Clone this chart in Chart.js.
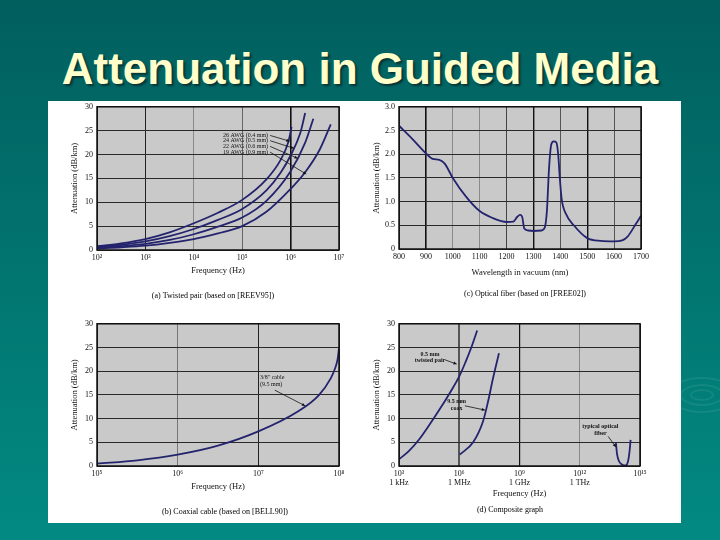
<!DOCTYPE html>
<html lang="en">
<head>
<meta charset="UTF-8">
<title>Attenuation in Guided Media</title>
<style>
  html, body { margin: 0; padding: 0; }
  body {
    width: 720px; height: 540px; position: relative; overflow: hidden;
    background: linear-gradient(#015f5e, #028a82);
    font-family: "Liberation Serif", "Times New Roman", serif;
  }
  h1 {
    position: absolute; left: 0; top: 47px; width: 720px; margin: 0;
    text-align: center;
    font: bold 44px/44px "Liberation Sans", Arial, sans-serif;
    color: #ffffcc; text-shadow: 2px 2px 2px #073535;
  }
  .ring { position: absolute; border: 2px solid rgba(255,255,255,0.07); border-radius: 50%; }
  .panel { position: absolute; left: 48px; top: 101px; width: 633px; height: 422px; background: #fff; }
  .box { position: absolute; }
</style>
</head>
<body>
  <h1>Attenuation in Guided Media</h1>
  <div class="ring" style="left:668px;top:377px;width:64px;height:32px"></div>
  <div class="ring" style="left:680px;top:384px;width:40px;height:18px"></div>
  <div class="ring" style="left:690px;top:389px;width:20px;height:8px"></div>
  <div class="panel"></div>

  <div class="box" style="left:50px;top:98px"><canvas id="chartA" width="300" height="205"></canvas></div>
  <div class="box" style="left:352px;top:98px"><canvas id="chartC" width="300" height="205"></canvas></div>
  <div class="box" style="left:50px;top:315px"><canvas id="chartB" width="300" height="205"></canvas></div>
  <div class="box" style="left:352px;top:315px"><canvas id="chartD" width="300" height="205"></canvas></div>

<script src="https://cdn.jsdelivr.net/npm/chart.js"></script>
<script>
// ---- (a) twisted pair, frequency (Hz) vs attenuation (dB/km)
const tpFreq26 = [1e2, 316, 1e3, 3162, 1e4, 31623, 1e5, 316228, 631000, 891000, 1.05e6];
const tpAtt26  = [0.8, 1.4, 2.3, 3.7, 5.6, 7.8, 10.5, 14.8, 19.0, 22.5, 25.8];
const tpFreq24 = [1e2, 316, 1e3, 3162, 1e4, 31623, 1e5, 316228, 631000, 1e6, 1.585e6, 2.0e6];
const tpAtt24  = [0.6, 1.1, 1.8, 2.9, 4.4, 6.3, 8.6, 12.5, 16.3, 19.8, 24.5, 28.7];
const tpFreq22 = [1e2, 316, 1e3, 3162, 1e4, 31623, 1e5, 316228, 1e6, 2.0e6, 2.95e6];
const tpAtt22  = [0.45, 0.8, 1.3, 2.1, 3.3, 4.9, 6.8, 10.3, 16.5, 22.5, 27.5];
const tpFreq19 = [1e2, 316, 1e3, 3162, 1e4, 31623, 1e5, 316228, 1e6, 2.0e6, 3.98e6, 6.76e6];
const tpAtt19  = [0.3, 0.55, 0.9, 1.5, 2.3, 3.5, 5.0, 8.0, 12.8, 16.3, 21.0, 26.3];
const tpTicks = [1e2, 1e3, 1e4, 1e5, 1e6, 1e7];
const tpTickLabels = ['10²', '10³', '10⁴', '10⁵', '10⁶', '10⁷'];

// ---- (c) optical fiber, wavelength (nm) vs attenuation (dB/km)
const fiberNm  = [800, 850, 900, 925, 950, 970, 1000, 1050, 1100, 1150, 1200, 1225, 1240, 1250, 1258, 1266,
                  1280, 1300, 1330, 1342, 1350, 1358, 1366, 1375, 1385, 1392, 1398, 1405, 1420, 1450,
                  1500, 1550, 1600, 1630, 1650, 1680, 1700];
const fiberAtt = [2.6, 2.32, 2.02, 1.9, 1.88, 1.8, 1.5, 1.1, 0.8, 0.65, 0.57, 0.58, 0.68, 0.72, 0.68, 0.43,
                  0.39, 0.38, 0.39, 0.45, 0.8, 1.7, 2.2, 2.27, 2.25, 2.0, 1.5, 1.05, 0.75, 0.5,
                  0.23, 0.17, 0.16, 0.18, 0.26, 0.52, 0.7];
const fiberTicks = [800, 900, 1000, 1100, 1200, 1300, 1400, 1500, 1600, 1700];
const fiberYTicks = [0, 0.5, 1.0, 1.5, 2.0, 2.5, 3.0];
const fiberYLabels = ['0', '0.5', '1.0', '1.5', '2.0', '2.5', '3.0'];

// ---- (b) coaxial cable
const coaxFreq = [1e5, 316228, 1e6, 3.162e6, 1e7, 3.162e7, 5.6e7, 7.9e7, 8.9e7, 9.6e7, 1e8];
const coaxAtt  = [0.5, 1.2, 2.4, 4.3, 7.3, 11.6, 14.9, 18.5, 20.5, 22.5, 24.8];
const coaxTicks = [1e5, 1e6, 1e7, 1e8];
const coaxTickLabels = ['10⁵', '10⁶', '10⁷', '10⁸'];

// ---- (d) composite
const compTpFreq = [1e3, 3162, 1e4, 31623, 1e5, 316228, 1e6, 2.0e6, 3.98e6, 7.8e6];
const compTpAtt  = [1.4, 3.2, 5.6, 8.6, 11.8, 15.2, 18.9, 21.8, 25.0, 28.6];
const compCoaxFreq = [1.05e6, 4.9e6, 1.55e7, 2.75e7, 4.8e7, 9.5e7];
const compCoaxAtt  = [2.4, 5.0, 9.5, 13.7, 18.5, 23.8];
const compFiberFreq = [6.3e13, 7.2e13, 9e13, 1.2e14, 1.6e14, 2.0e14, 2.5e14, 3.0e14, 3.4e14];
const compFiberAtt  = [5.0, 2.5, 1.0, 0.4, 0.12, 0.15, 0.9, 3.0, 5.5];
const compTicks = [1e3, 1e6, 1e9, 1e12, 1e15];
const compTickLabels = [['10³', '1 kHz'], ['10⁶', '1 MHz'], ['10⁹', '1 GHz'], ['10¹²', '1 THz'], '10¹⁵'];

const attTicks = [0, 5, 10, 15, 20, 25, 30];
const attLabels = ['0', '5', '10', '15', '20', '25', '30'];

Chart.defaults.font.family = '"Liberation Serif", "Times New Roman", serif';
Chart.defaults.font.size = 8;
Chart.defaults.color = '#111';
Chart.defaults.animation = false;
Chart.defaults.plugins.legend.display = false;
Chart.defaults.plugins.tooltip.enabled = false;

const lineColor = '#24246e';

function series(xs, ys) {
  return {
    data: xs.map((x, i) => ({ x: x, y: ys[i] })),
    borderColor: lineColor, borderWidth: 1.8, pointRadius: 0,
    showLine: true, cubicInterpolationMode: 'monotone', fill: false
  };
}

function arrow(ctx, x1, y1, x2, y2) {
  ctx.beginPath(); ctx.moveTo(x1, y1); ctx.lineTo(x2, y2); ctx.stroke();
  const a = Math.atan2(y2 - y1, x2 - x1), h = 3.5;
  ctx.beginPath();
  ctx.moveTo(x2, y2);
  ctx.lineTo(x2 - h * Math.cos(a - 0.45), y2 - h * Math.sin(a - 0.45));
  ctx.lineTo(x2 - h * Math.cos(a + 0.45), y2 - h * Math.sin(a + 0.45));
  ctx.closePath(); ctx.fill();
}

// gray plot background, black frame, caption, small text labels with arrows
const frame = {
  id: 'frame',
  beforeDraw(chart) {
    const { ctx, chartArea: a } = chart;
    ctx.save();
    ctx.fillStyle = '#c9c9c9';
    ctx.fillRect(a.left, a.top, a.width, a.height);
    ctx.restore();
  },
  afterDraw(chart, args, opts) {
    const { ctx, chartArea: a, scales: { x, y } } = chart;
    ctx.save();
    ctx.strokeStyle = '#111';
    ctx.lineWidth = 1.5;
    ctx.strokeRect(a.left, a.top, a.width, a.height);

    ctx.fillStyle = '#000';
    ctx.textBaseline = 'middle';
    if (opts.caption) {
      ctx.font = '8px "Liberation Serif", serif';
      ctx.textAlign = 'center';
      ctx.fillText(opts.caption.text, opts.caption.x, opts.caption.y);
    }

    ctx.fillStyle = '#111';
    ctx.lineWidth = 0.8;
    (opts.notes || []).forEach(n => {
      ctx.font = (n.bold ? 'bold ' : '') + '6px "Liberation Serif", serif';
      ctx.textAlign = n.align || 'left';
      const px = x.getPixelForValue(n.at[0]);
      const py = y.getPixelForValue(n.at[1]);
      let w = 0;
      n.text.forEach((t, i) => {
        ctx.fillText(t, px, py + i * 6.5);
        w = Math.max(w, ctx.measureText(t).width);
      });
      if (n.to) {
        const fx = n.from ? x.getPixelForValue(n.from[0]) : px + w + 2;
        const fy = n.from ? y.getPixelForValue(n.from[1]) : py;
        arrow(ctx, fx, fy, x.getPixelForValue(n.to[0]), y.getPixelForValue(n.to[1]));
      }
    });
    ctx.restore();
  }
};

function axisX(o) {
  return {
    type: o.type, min: o.min, max: o.max,
    afterBuildTicks: s => { s.ticks = o.ticks.map(v => ({ value: v })); },
    afterFit: s => { s.height = o.height; },
    grid: { color: o.gridColors, lineWidth: o.gridWidths || 1, drawTicks: false },
    border: { display: false },
    ticks: { autoSkip: false, maxRotation: 0, padding: 3, callback: (v, i) => o.labels[i] },
    title: { display: true, text: o.title, font: { size: 8.5 }, padding: { top: 0, bottom: o.titlePad } }
  };
}

function axisY(ticks, labels, max) {
  return {
    type: 'linear', min: 0, max: max,
    afterBuildTicks: s => { s.ticks = ticks.map(v => ({ value: v })); },
    afterFit: s => { s.width = 47; },
    grid: { color: '#2a2a2a', lineWidth: 1, drawTicks: false },
    border: { display: false },
    ticks: { padding: 4, callback: (v, i) => labels[i] },
    title: { display: true, text: 'Attenuation (dB/km)', font: { size: 8.5 }, padding: { top: 20, bottom: 0 } }
  };
}

function makeChart(id, datasets, xAxis, yAxis, pad, caption, notes) {
  return new Chart(document.getElementById(id), {
    type: 'scatter',
    data: { datasets: datasets },
    options: {
      responsive: false,
      layout: { padding: pad },
      scales: { x: xAxis, y: yAxis },
      plugins: { frame: { caption: caption, notes: notes } }
    },
    plugins: [frame]
  });
}

// (a)
makeChart('chartA',
  [series(tpFreq26, tpAtt26), series(tpFreq24, tpAtt24), series(tpFreq22, tpAtt22), series(tpFreq19, tpAtt19)],
  axisX({ type: 'logarithmic', min: 1e2, max: 1e7, ticks: tpTicks, labels: tpTickLabels, height: 34,
          title: 'Frequency (Hz)', titlePad: 8,
          gridColors: ['#222', '#222', '#8a8a8a', '#666', '#111', '#222'], gridWidths: [1, 1, 1, 1, 1.6, 1] }),
  axisY(attTicks, attLabels, 30),
  { left: 0, top: 7, right: 11, bottom: 19 },
  { text: '(a) Twisted pair (based on [REEV95])', x: 163, y: 198 },
  [
    { text: ['26 AWG (0.4 mm)'], at: [4.0e4, 24.0], to: [9.5e5, 22.8] },
    { text: ['24 AWG (0.5 mm)'], at: [4.0e4, 22.9], to: [1.17e6, 21.3] },
    { text: ['22 AWG (0.6 mm)'], at: [4.0e4, 21.7], to: [1.4e6, 19.2] },
    { text: ['19 AWG (0.9 mm)'], at: [4.0e4, 20.5], to: [2.1e6, 15.9] }
  ]);

// (c)
makeChart('chartC',
  [series(fiberNm, fiberAtt)],
  axisX({ type: 'linear', min: 800, max: 1700, ticks: fiberTicks, labels: fiberTicks.map(String), height: 35,
          title: 'Wavelength in vacuum (nm)', titlePad: 6,
          gridColors: ['#222', '#111', '#8a8a8a', '#8a8a8a', '#444', '#111', '#555', '#111', '#555', '#222'],
          gridWidths: [1, 1.6, 1, 1, 1, 1.4, 1, 1.4, 1, 1] }),
  axisY(fiberYTicks, fiberYLabels, 3.0),
  { left: 0, top: 7, right: 11, bottom: 19 },
  { text: '(c) Optical fiber (based on [FREE02])', x: 173, y: 196 },
  []);

// (b)
makeChart('chartB',
  [series(coaxFreq, coaxAtt)],
  axisX({ type: 'logarithmic', min: 1e5, max: 1e8, ticks: coaxTicks, labels: coaxTickLabels, height: 34,
          title: 'Frequency (Hz)', titlePad: 8,
          gridColors: ['#222', '#777', '#222', '#222'] }),
  axisY(attTicks, attLabels, 30),
  { left: 0, top: 7, right: 11, bottom: 20 },
  { text: '(b) Coaxial cable (based on [BELL90])', x: 175, y: 197 },
  [
    { text: ['3/8" cable', '(9.5 mm)'], at: [1.05e7, 18.6], from: [1.6e7, 16.0], to: [3.8e7, 12.7] }
  ]);

// (d)
makeChart('chartD',
  [series(compTpFreq, compTpAtt), series(compCoaxFreq, compCoaxAtt), series(compFiberFreq, compFiberAtt)],
  axisX({ type: 'logarithmic', min: 1e3, max: 1e15, ticks: compTicks, labels: compTickLabels, height: 39,
          title: 'Frequency (Hz)', titlePad: 6,
          gridColors: ['#222', '#555', '#111', '#888', '#222'], gridWidths: [1, 2, 1.2, 1, 1] }),
  axisY(attTicks, attLabels, 30),
  { left: 0, top: 7, right: 12, bottom: 15 },
  { text: '(d) Composite graph', x: 158, y: 195 },
  [
    { text: ['0.5 mm', 'twisted pair'], at: [3.5e4, 23.6], align: 'center', bold: true, from: [1.95e5, 22.4], to: [7.4e5, 21.5] },
    { text: ['9.5 mm', 'coax'], at: [7.4e5, 13.6], align: 'center', bold: true, from: [1.9e6, 12.7], to: [1.9e7, 11.8] },
    { text: ['typical optical', 'fiber'], at: [1.07e13, 8.3], align: 'center', bold: true, from: [2.6e13, 6.25], to: [6.3e13, 4.0] }
  ]);
</script>
</body>
</html>
